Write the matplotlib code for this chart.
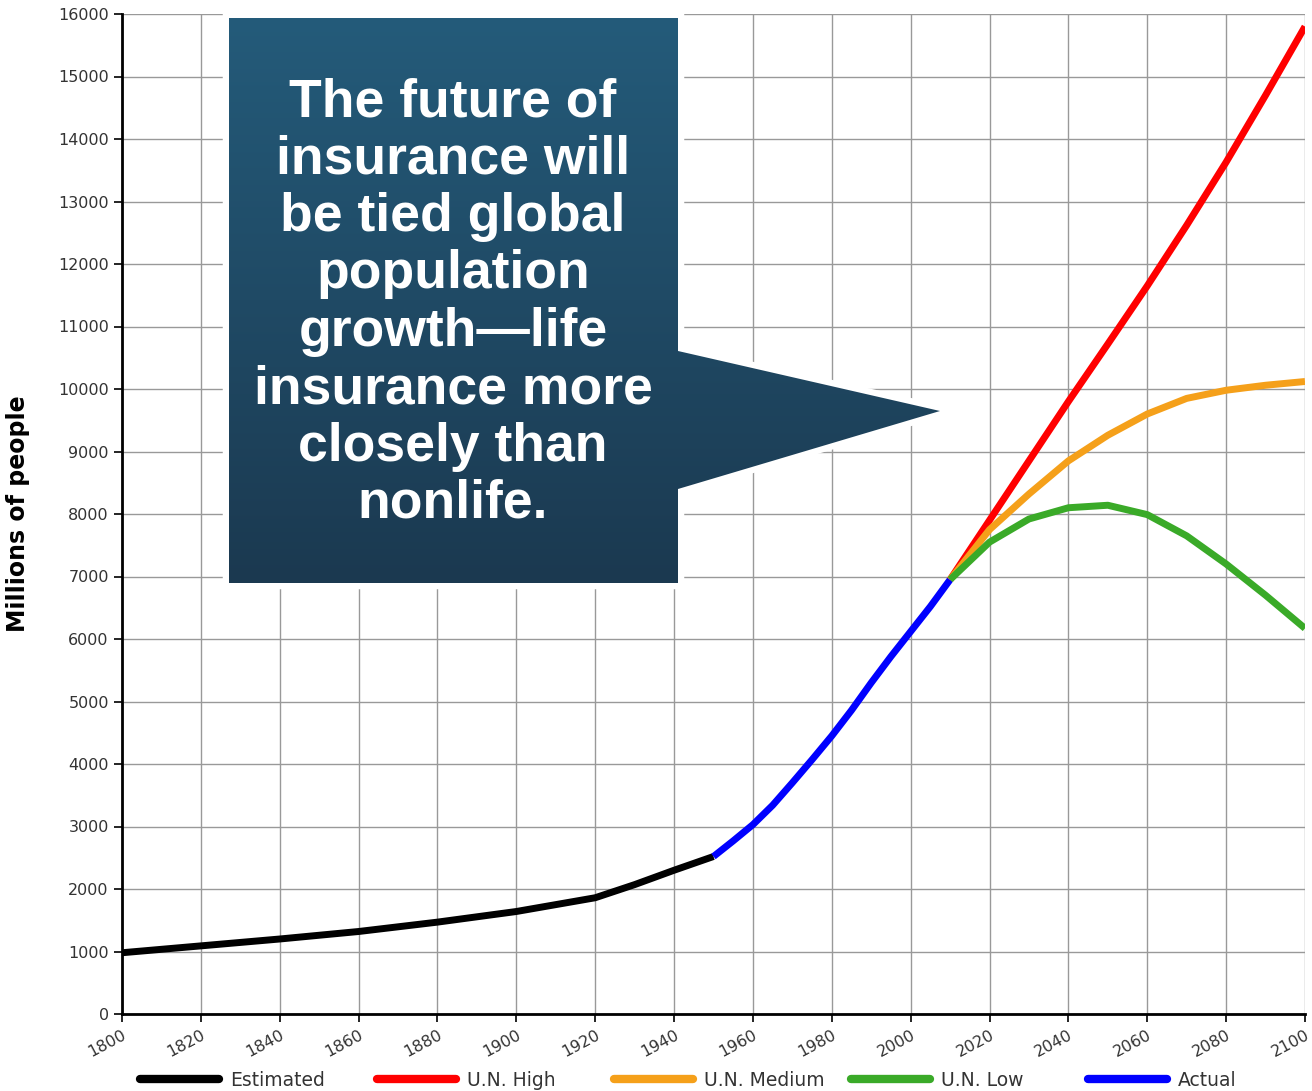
import numpy as np
import matplotlib
matplotlib.use('Agg')
import matplotlib.pyplot as plt
from matplotlib.patches import Polygon
from matplotlib.lines import Line2D

# population in millions
years_est = [1800, 1820, 1840, 1860, 1880, 1900, 1920, 1930, 1940, 1950]
pop_est = [980, 1090, 1200, 1320, 1470, 1640, 1860, 2070, 2300, 2520]

years_act = [1950, 1955, 1960, 1965, 1970, 1975, 1980, 1985, 1990, 1995, 2000, 2005, 2010]
pop_act = [2520, 2770, 3030, 3340, 3700, 4070, 4450, 4860, 5300, 5720, 6120, 6520, 6950]

years_proj = [2010, 2020, 2030, 2040, 2050, 2060, 2070, 2080, 2090, 2100]
pop_high = [6950, 7900, 8850, 9800, 10720, 11650, 12620, 13630, 14700, 15800]
pop_med = [6950, 7750, 8320, 8850, 9260, 9600, 9850, 9980, 10060, 10120]
pop_low = [6950, 7550, 7920, 8100, 8140, 7990, 7650, 7200, 6700, 6170]

labels = ['Estimated', 'U.N. High', 'U.N. Medium', 'U.N. Low', 'Actual']
colors = ['#000000', '#ff0000', '#f5a01a', '#3aaa28', '#0000ff']

callout = ("The future of\ninsurance will\nbe tied global\npopulation\n"
           "growth\u2014life\ninsurance more\nclosely than\nnonlife.")

W, H = 1312, 1091
fig = plt.figure(figsize=(W/100, H/100), dpi=100)
ax = fig.add_axes([122/W, 1-1014/H, (1305-122)/W, 1000/H])

lw = 5
ax.plot(years_est, pop_est, color=colors[0], lw=lw, solid_capstyle='butt')
ax.plot(years_act, pop_act, color=colors[4], lw=lw, solid_capstyle='butt')
ax.plot(years_proj, pop_high, color=colors[1], lw=lw, solid_capstyle='butt')
ax.plot(years_proj, pop_med, color=colors[2], lw=lw, solid_capstyle='butt')
ax.plot(years_proj, pop_low, color=colors[3], lw=lw, solid_capstyle='butt')

ax.set_xlim(1800, 2100)
ax.set_ylim(0, 16000)
ax.set_xticks(np.arange(1800, 2101, 20))
ax.set_yticks(np.arange(0, 16001, 1000))
ax.grid(True, color='#999999', lw=1)
ax.set_axisbelow(True)
for s in ['top', 'right']:
    ax.spines[s].set_visible(False)
for s in ['left', 'bottom']:
    ax.spines[s].set_linewidth(2)
ax.tick_params(axis='both', labelsize=11.5, labelcolor='#333333', length=6, width=1.2)
plt.setp(ax.get_xticklabels(), rotation=28, ha='right', rotation_mode='anchor')
ax.set_ylabel('Millions of people', fontsize=17, fontweight='bold')
ax.yaxis.set_label_coords(-0.078, 0.5)

# legend entries in evenly spaced slots
legx = [140, 377, 614, 851, 1088]
for i in range(5):
    h = Line2D([], [], color=colors[i], lw=6, solid_capstyle='round')
    fig.legend(handles=[h], labels=[labels[i]], loc='center left', frameon=False,
               bbox_to_anchor=(legx[i]/W, 1-1080/H), fontsize=13.5, handlelength=4.2,
               handletextpad=0.6, borderaxespad=0, borderpad=0, labelcolor='#333333')

# callout shape on an overlay axes in pixel coordinates
ov = fig.add_axes([0, 0, 1, 1])
ov.axis('off')
shape = [(229, 18), (678, 18), (678, 351), (940, 411), (678, 489), (678, 583), (229, 583)]
ov.add_patch(Polygon(shape, closed=True, facecolor='white', edgecolor='white', lw=9,
                     joinstyle='miter', zorder=1))
clip = Polygon(shape, closed=True, facecolor='none', edgecolor='none', zorder=1)
ov.add_patch(clip)
top = np.array([36, 91, 122]) / 255
bot = np.array([27, 57, 80]) / 255
t = np.linspace(0, 1, 256)[:, None, None]
grad = top * (1 - t) + bot * t
grad = np.repeat(grad, 2, axis=1)
im = ov.imshow(grad, extent=[229, 940, 583, 18], aspect='auto', interpolation='bilinear', zorder=2)
im.set_clip_path(clip)
ov.set_xlim(0, W)
ov.set_ylim(H, 0)
ov.text(453, 303, callout, color='white', fontsize=38.5, fontweight='bold',
        family='Liberation Sans', ha='center', va='center', linespacing=1.19, zorder=3)

fig.savefig('out.png', dpi=100)
